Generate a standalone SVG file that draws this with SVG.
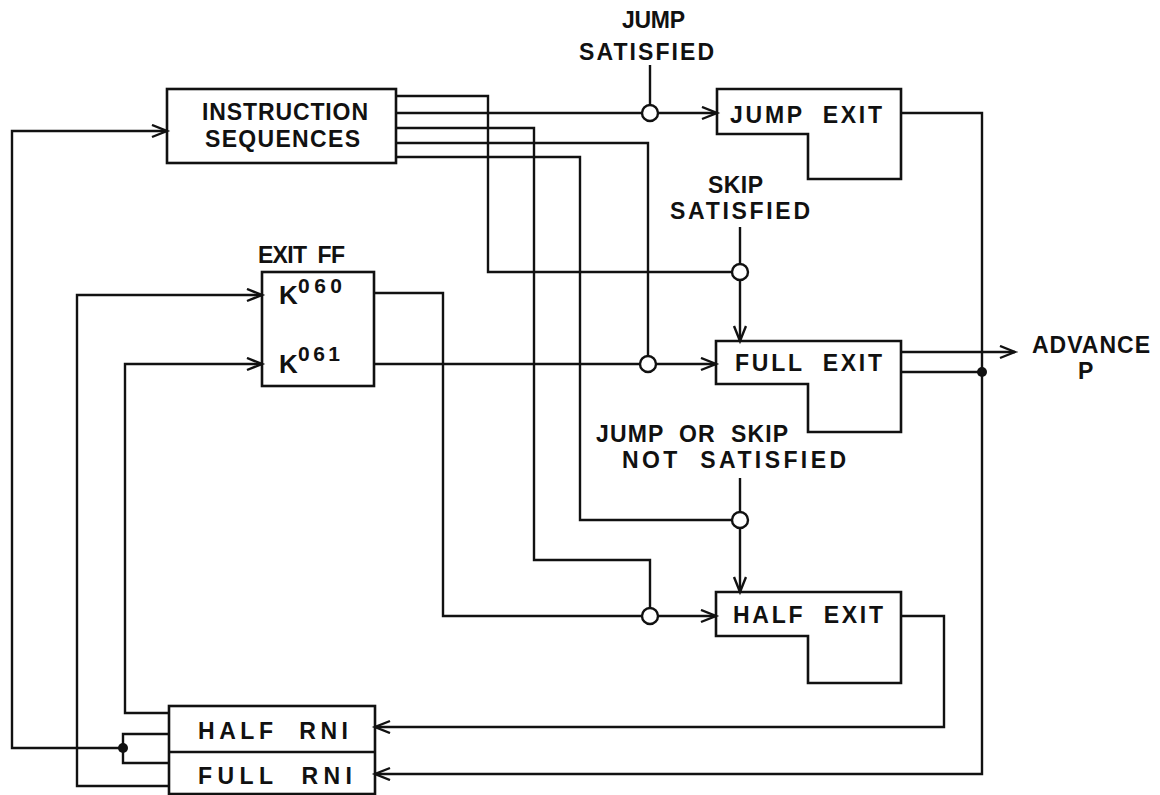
<svg xmlns="http://www.w3.org/2000/svg" width="1160" height="795" viewBox="0 0 1160 795">
<style>
  .box { fill: none; stroke: #111; stroke-width: 2.6; stroke-linejoin: miter; }
  .ln { fill: none; stroke: #111; stroke-width: 2.4; }
  .arr { fill: none; stroke: #111; stroke-width: 2.4; marker-end: url(#ah); }
  .circ { fill: #fff; stroke: #111; stroke-width: 2.4; }
  .dot { fill: #111; }
  text { font-family: "Liberation Sans", Arial, sans-serif; font-size: 23px; font-weight: bold; fill: #111; white-space: pre; }
  .sup { font-size: 21px; }
  .k { font-size: 26px; }
</style>
<defs>
  <marker id="ah" markerUnits="userSpaceOnUse" markerWidth="20" markerHeight="16" refX="16" refY="7" orient="auto">
    <path d="M1,1 L16,7 L1,13" fill="none" stroke="#111" stroke-width="2.4"/>
  </marker>
</defs>
<rect width="1160" height="795" fill="#fff"/>

<g id="instruction-sequences">
  <rect class="box" x="167" y="89" width="229" height="74"/>
  <text x="202" y="120" textLength="166" lengthAdjust="spacing">INSTRUCTION</text>
  <text x="205" y="147" textLength="155" lengthAdjust="spacing">SEQUENCES</text>
</g>

<g id="exit-ff">
  <text x="258" y="263" textLength="87" lengthAdjust="spacing">EXIT  FF</text>
  <rect class="box" x="262" y="272" width="112" height="114"/>
  <text class="k" x="279" y="304">K</text>
  <text class="sup" x="298" y="293" textLength="44" lengthAdjust="spacing">060</text>
  <text class="k" x="279" y="373">K</text>
  <text class="sup" x="298" y="361" textLength="42" lengthAdjust="spacing">061</text>
</g>

<g id="jump-exit">
  <path class="box" d="M717,89 H901 V179 H808 V134 H717 Z"/>
  <text x="730" y="123" textLength="152" lengthAdjust="spacing">JUMP  EXIT</text>
</g>

<g id="full-exit">
  <path class="box" d="M716,341 H901 V432 H808 V384 H716 Z"/>
  <text x="735" y="371" textLength="147" lengthAdjust="spacing">FULL  EXIT</text>
</g>

<g id="half-exit">
  <path class="box" d="M716,592 H901 V683 H808 V636 H716 Z"/>
  <text x="733" y="623" textLength="150" lengthAdjust="spacing">HALF  EXIT</text>
</g>

<g id="rni">
  <rect class="box" x="169" y="706" width="206" height="88"/>
  <line class="box" x1="169" y1="752" x2="375" y2="752"/>
  <text x="198" y="739" textLength="150" lengthAdjust="spacing">HALF  RNI</text>
  <text x="198" y="784" textLength="154" lengthAdjust="spacing">FULL  RNI</text>
</g>

<g id="labels">
  <text x="622" y="28" textLength="63" lengthAdjust="spacing">JUMP</text>
  <text x="579" y="60" textLength="135" lengthAdjust="spacing">SATISFIED</text>
  <text x="708" y="193" textLength="55" lengthAdjust="spacing">SKIP</text>
  <text x="670" y="219" textLength="140" lengthAdjust="spacing">SATISFIED</text>
  <text x="596" y="442" textLength="192" lengthAdjust="spacing">JUMP  OR  SKIP</text>
  <text x="622" y="468" textLength="224" lengthAdjust="spacing">NOT  SATISFIED</text>
  <text x="1032" y="353" textLength="118" lengthAdjust="spacing">ADVANCE</text>
  <text x="1078" y="379">P</text>
</g>

<g id="connectors">
  <path class="arr" d="M123,748 H12 V131 H167"/>
  <path class="ln" d="M169,734 H123 V763 H169"/>
  <circle class="dot" cx="123" cy="748" r="5"/>
  <path class="arr" d="M169,713 H125 V364 H262"/>
  <path class="arr" d="M169,786 H77 V295 H262"/>
  <path class="ln" d="M396,96 H488 V272 H732"/>
  <path class="ln" d="M396,113 H642"/>
  <path class="ln" d="M396,128 H534 V560 H650 V608"/>
  <path class="ln" d="M396,143 H648 V356"/>
  <path class="ln" d="M396,157 H580 V520 H732"/>
  <path class="ln" d="M374,293 H443 V616 H642"/>
  <path class="ln" d="M374,364 H640"/>
  <path class="ln" d="M650,65 V105"/>
  <circle class="circ" cx="650" cy="113" r="8"/>
  <path class="arr" d="M658,113 H717"/>
  <path class="ln" d="M740,227 V264"/>
  <circle class="circ" cx="740" cy="272" r="8"/>
  <path class="arr" d="M740,280 V341"/>
  <circle class="circ" cx="648" cy="364" r="8"/>
  <path class="arr" d="M656,364 H716"/>
  <path class="ln" d="M740,478 V512"/>
  <circle class="circ" cx="740" cy="520" r="8"/>
  <path class="arr" d="M740,528 V592"/>
  <circle class="circ" cx="650" cy="616" r="8"/>
  <path class="arr" d="M658,616 H716"/>
  <path class="arr" d="M901,352 H1015"/>
  <path class="ln" d="M901,372 H982"/>
  <circle class="dot" cx="982" cy="372" r="5"/>
  <path class="arr" d="M901,113 H982 V774 H375"/>
  <path class="arr" d="M901,616 H944 V727 H375"/>
</g>
</svg>
